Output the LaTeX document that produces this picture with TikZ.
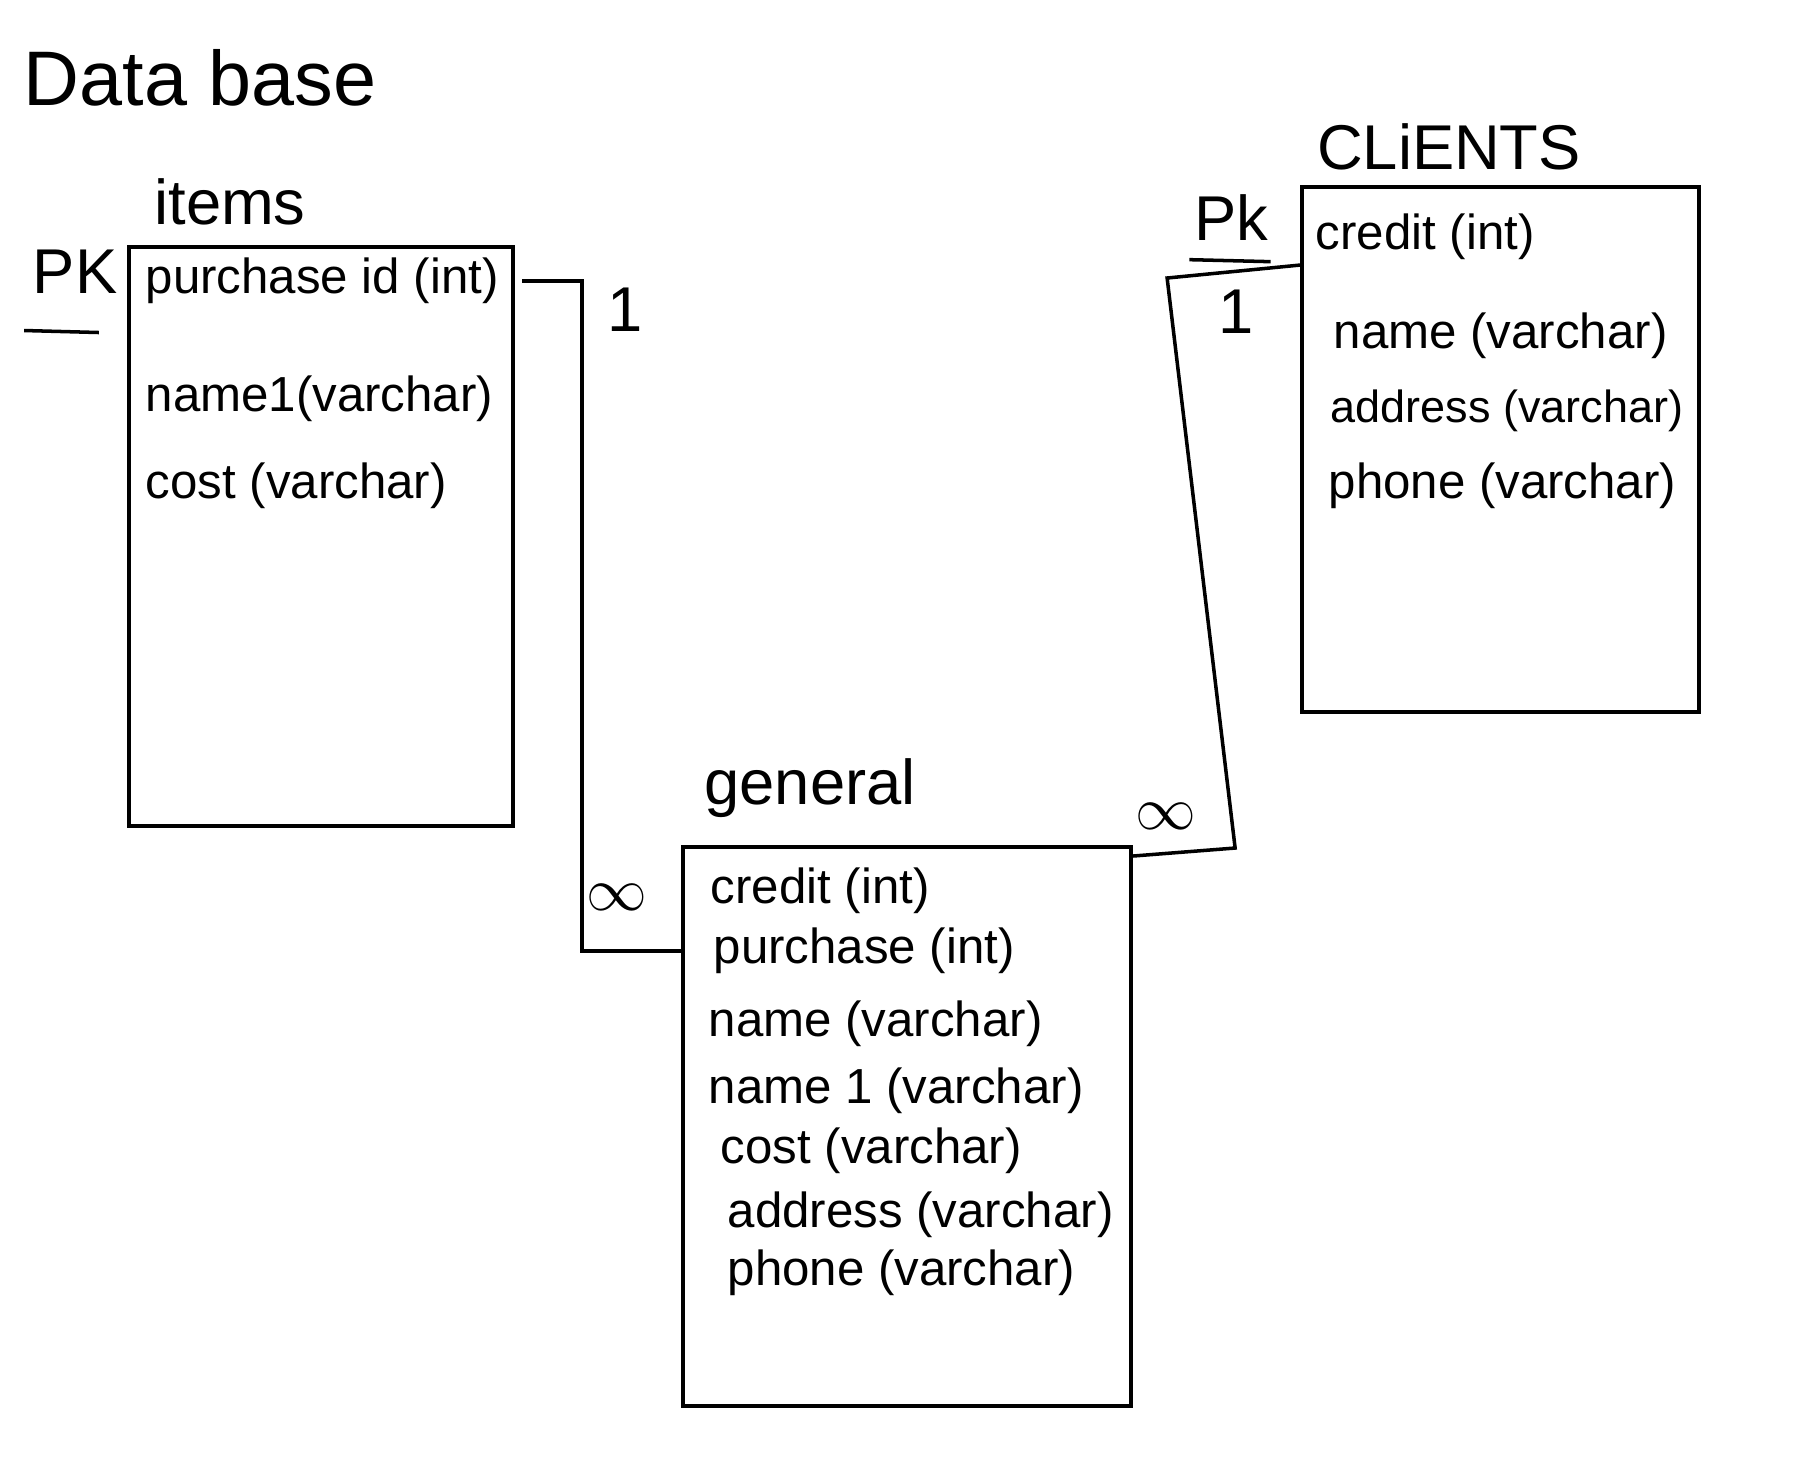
\documentclass[tikz,border=0pt]{standalone}
\usepackage{fontspec}
\setmainfont{Liberation Sans}
\begin{document}
\begin{tikzpicture}[x=0.01cm,y=-0.01cm]
		\tikzstyle{every node}+=[inner sep=0pt]
		\tikzstyle{tbl}=[draw=black, line width=1.1pt, anchor=north west]
		\tikzstyle{row}=[anchor=west, font=\fontsize{14}{16}\selectfont]
		\tikzstyle{ttl}=[font=\fontsize{18}{20}\selectfont]
		\tikzstyle{card}=[font=\fontsize{18}{20}\selectfont]
		\tikzstyle{link}=[black, line width=1pt]
		\useasboundingbox (0,0) rectangle (1814,1465);
		\node [font=\fontsize{22}{24}\selectfont] (db) at (200,78) {Data base};
		\node [tbl, minimum width=3.84cm, minimum height=5.79cm] (items) at (127,245) {};
		\node [ttl] (itemsT) at (230,202) {items};
		\node [ttl] (pkL) at (75,272) {PK};
		\draw [link] ([xshift=-0.08cm,yshift=-0.36cm]pkL.south west) -- ([xshift=-0.19cm,yshift=-0.38cm]pkL.south east);
		\node [row] (i1) at (145,281) {purchase id (int)};
		\node [row] (i2) at (145,399) {name1(varchar)};
		\node [row] (i3) at (145,486) {cost (varchar)};
		\node [tbl, minimum width=3.97cm, minimum height=5.25cm] (clients) at (1300,185) {};
		\node [ttl] (clientsT) at (1449,147) {CLiENTS};
		\node [ttl] (pkR) at (1231,218) {Pk};
		\draw [link] ([xshift=-0.04cm,yshift=-0.18cm]pkR.south west) -- ([xshift=0.02cm,yshift=-0.2cm]pkR.south east);
		\node [row] (c1) at (1315,237) {credit (int)};
		\node [row] (c2) at (1333,336) {name (varchar)};
		\node [row, font=\fontsize{12.8}{15}\selectfont] (c3) at (1330,411) {address (varchar)};
		\node [row] (c4) at (1328,486) {phone (varchar)};
		\node [tbl, minimum width=4.48cm, minimum height=5.59cm] (general) at (681,845) {};
		\node [ttl] (generalT) at (810,788) {general};
		\node [row] (g1) at (710,891) {credit (int)};
		\node [row] (g2) at (713,951) {purchase (int)};
		\node [row] (g3) at (708,1024) {name (varchar)};
		\node [row] (g4) at (708,1091) {name 1 (varchar)};
		\node [row] (g5) at (720,1151) {cost (varchar)};
		\node [row] (g6) at (727,1215) {address (varchar)};
		\node [row] (g7) at (727,1273) {phone (varchar)};
		\coordinate (iout) at ([xshift=0.07cm]items.north east |- i1);
		\coordinate (gout) at ([yshift=-0.11cm]general.north east);
		\coordinate (cin) at ([yshift=-0.8cm]clients.north west);
		\draw [link] (iout) -- ++(60,0) |- (general.west |- g2);
		\draw [link] (gout) -- ++(102,-8) -- ++(-68,-570) -- (cin);
		\node [card] (oneL) at (625,310) {1};
		\node [card] (manyL) at (617,897) {$\infty$};
		\node [card] (manyR) at (1166,816) {$\infty$};
		\node [card] (oneR) at (1236,312) {1};
	\end{tikzpicture}
\end{document}
